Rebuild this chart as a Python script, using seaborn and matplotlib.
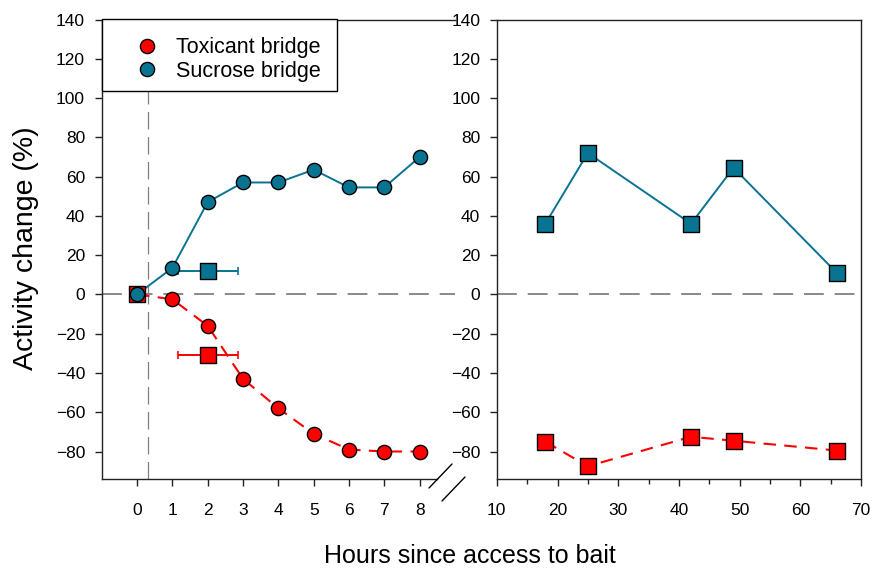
import numpy as np
import pandas as pd
import matplotlib
matplotlib.use("Agg")
import matplotlib.pyplot as plt
from matplotlib.lines import Line2D
from matplotlib.patches import Rectangle
import seaborn as sns

# ---- data -----------------------------------------------------------------
hours_early = [0, 1, 2, 3, 4, 5, 6, 7, 8]
toxicant_early = [0, -2.5, -16, -43, -58, -71, -79, -80, -80]
sucrose_early = [0, 13.5, 47, 57, 57, 63.5, 54.5, 54.5, 70]

# field-plot means (squares) with horizontal spread in time
square_hours = [2, 2]
square_toxicant = -31
square_sucrose = 12
square_xerr = 0.85

hours_late = [18, 25, 42, 49, 66]
toxicant_late = [-75, -87.5, -72.5, -74.5, -79.5]
sucrose_late = [36, 72, 36, 64.5, 11]

yticks = [-80, -60, -40, -20, 0, 20, 40, 60, 80, 100, 120, 140]
xticks_early = [0, 1, 2, 3, 4, 5, 6, 7, 8]
xticks_late = [10, 20, 30, 40, 50, 60, 70]

RED = "#FF0000"
BLUE = "#087492"
SPINE = "#222222"

early = pd.DataFrame({"hours": hours_early, "toxicant": toxicant_early,
                      "sucrose": sucrose_early})
late = pd.DataFrame({"hours": hours_late, "toxicant": toxicant_late,
                     "sucrose": sucrose_late})

sns.set_theme(style="ticks")
plt.rcParams["font.family"] = ["Liberation Sans", "DejaVu Sans"]
plt.rcParams["text.color"] = "black"

W, H = 874, 568
fig = plt.figure(figsize=(W / 100, H / 100), dpi=100)


def fx(px):
    return px / W


def fy(py):
    return 1 - py / H


ax1 = fig.add_axes([fx(101.7), fy(479), fx(455 - 101.7), (479 - 19.5) / H])
ax2 = fig.add_axes([fx(496.8), fy(479), fx(861 - 496.8), (479 - 19.5) / H])

ylim = (-94, 140)
tick_fs = 12.5

for ax in (ax1, ax2):
    ax.set_ylim(*ylim)
    ax.set_yticks(yticks)
    ax.tick_params(axis="both", which="major", direction="out", length=5,
                   width=1, color=SPINE, labelsize=tick_fs, labelcolor="black")
    ax.tick_params(axis="y", pad=7)
    ax.tick_params(axis="x", pad=12)
    for s in ax.spines.values():
        s.set_color(SPINE)
        s.set_linewidth(1.0)
    ax.axhline(0, color="#808080", lw=1.3, ls=(0, (11, 6)), zorder=1)

# ---- left panel: first hours -----------------------------------------------
ax1.set_xlim(-1, 9)
ax1.set_xticks(xticks_early)
ax1.spines["right"].set_visible(False)
ax1.spines["bottom"].set_bounds(-1, 8.5)
ax1.axvline(0.31, color="#808080", lw=0.9, ls=(0, (14, 6)), zorder=1)

sns.lineplot(data=early, x="hours", y="sucrose", ax=ax1, color=BLUE,
             lw=1.4, zorder=2)
sns.lineplot(data=early, x="hours", y="toxicant", ax=ax1, color=RED,
             lw=1.5, ls=(0, (6, 4)), zorder=2)

ax1.errorbar(square_hours[0], square_sucrose, xerr=square_xerr, fmt="none",
             ecolor=BLUE, elinewidth=1.4, capsize=3, capthick=1.2, zorder=2)
ax1.errorbar(square_hours[1], square_toxicant, xerr=square_xerr, fmt="none",
             ecolor=RED, elinewidth=1.4, capsize=3, capthick=1.2, zorder=2)

sns.scatterplot(x=[0], y=[0], ax=ax1, marker="s", s=120, color=RED,
                edgecolor="black", linewidth=1, zorder=3)
sns.scatterplot(x=[square_hours[0]], y=[square_sucrose], ax=ax1, marker="s",
                s=120, color=BLUE, edgecolor="black", linewidth=1, zorder=4)
sns.scatterplot(x=[square_hours[1]], y=[square_toxicant], ax=ax1, marker="s",
                s=120, color=RED, edgecolor="black", linewidth=1, zorder=4)
sns.scatterplot(data=early.iloc[1:], x="hours", y="toxicant", ax=ax1,
                marker="o", s=105, color=RED, edgecolor="black",
                linewidth=1, zorder=4)
sns.scatterplot(data=early, x="hours", y="sucrose", ax=ax1, marker="o",
                s=105, color=BLUE, edgecolor="black", linewidth=1, zorder=5)

# legend box anchored to the upper-left corner of the first panel
box_right, box_bottom = 337, 91
ax1.add_patch(Rectangle((fx(101.7), fy(box_bottom)), fx(box_right - 101.7),
                        (box_bottom - 19.5) / H, transform=fig.transFigure,
                        facecolor="white", edgecolor="black", lw=1.0,
                        zorder=9, clip_on=False))
handles = [
    Line2D([], [], ls="none", marker="o", markersize=10.2,
           markerfacecolor=RED, markeredgecolor="black", markeredgewidth=1),
    Line2D([], [], ls="none", marker="o", markersize=10.2,
           markerfacecolor=BLUE, markeredgecolor="black", markeredgewidth=1),
]
leg = ax1.legend(handles, ["Toxicant bridge", "Sucrose bridge"],
                 loc="upper left", bbox_to_anchor=(fx(101.7), fy(24.5)),
                 bbox_transform=fig.transFigure, borderaxespad=0,
                 fontsize=15.5, frameon=False, borderpad=0.6,
                 labelspacing=0.1, handlelength=3.0, handletextpad=-0.15)
for t in leg.get_texts():
    t.set_color("black")
leg.set_zorder(10)

ax1.set_xlabel("")
ax1.set_ylabel("")

# ---- right panel: later observations ---------------------------------------
ax2.set_xlim(10, 70)
ax2.set_xticks(xticks_late)
ax2.set_xticks(np.arange(15, 70, 10), minor=True)
ax2.tick_params(axis="x", which="minor", direction="out", length=3.5,
                width=1, color=SPINE)

sns.lineplot(data=late, x="hours", y="sucrose", ax=ax2, color=BLUE,
             lw=1.4, zorder=2)
sns.lineplot(data=late, x="hours", y="toxicant", ax=ax2, color=RED,
             lw=1.5, ls=(0, (6, 4)), zorder=2)
sns.scatterplot(data=late, x="hours", y="sucrose", ax=ax2, marker="s",
                s=120, color=BLUE, edgecolor="black", linewidth=1, zorder=4)
sns.scatterplot(data=late, x="hours", y="toxicant", ax=ax2, marker="s",
                s=120, color=RED, edgecolor="black", linewidth=1, zorder=4)
ax2.set_xlabel("")
ax2.set_ylabel("")

# axis-break marks at the end of the first time axis
for x0 in (429, 442):
    fig.add_artist(Line2D([fx(x0), fx(x0 + 23)], [fy(488 + (x0 - 429)),
                                                  fy(464 + (x0 - 429))],
                          color="black", lw=1.0))

fig.text(fx(26), fy(248), "Activity change (%)", rotation=90,
         ha="center", va="center", fontsize=20.5, color="black")
fig.text(fx(470), fy(556), "Hours since access to bait",
         ha="center", va="center", fontsize=18, color="black")

fig.savefig("out.png", dpi=100)
